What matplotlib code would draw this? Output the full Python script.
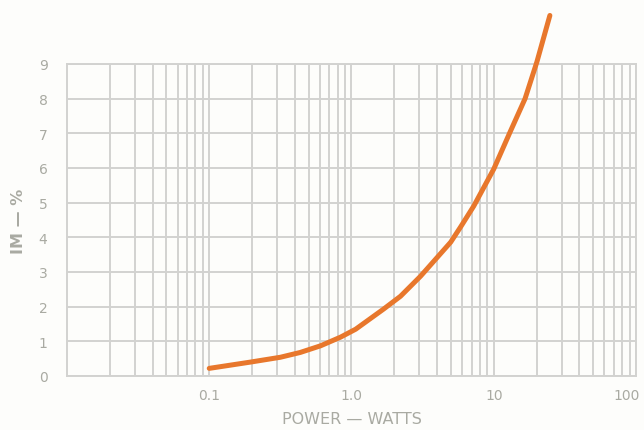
import matplotlib
matplotlib.use("Agg")
import matplotlib.pyplot as plt
import matplotlib.transforms as mtrans
import numpy as np
from matplotlib.ticker import FixedLocator, FixedFormatter, LogLocator, NullFormatter

# intermodulation distortion vs output power
power_w = [0.1, 0.194, 0.316, 0.437, 0.605, 0.837, 1.07, 1.68, 2.21, 3.06,
           4.98, 5.85, 7.23, 10.0, 13.0, 16.6, 20.1, 24.8]
im_pct = [0.22, 0.40, 0.54, 0.68, 0.87, 1.12, 1.35, 1.93, 2.3, 2.88,
          3.86, 4.3, 4.9, 5.97, 7.03, 8.0, 9.06, 10.4]

x_ticks = [0.1, 1.0, 10, 100]
x_labels = ["0.1", "1.0", "10", "100"]
y_ticks = list(range(10))

grid_c = "#d2d2d0"
text_c = "#a9aaa2"
bg = "#fdfdfb"

fig = plt.figure(figsize=(6.44, 4.31), dpi=100, facecolor=bg)
ax = fig.add_axes([0.104, 0.1253, 0.8836, 0.7239], facecolor=bg)

ax.set_xscale("log")
ax.set_xlim(0.01, 100)
ax.set_ylim(0, 9)

ax.xaxis.set_major_locator(FixedLocator(x_ticks))
ax.xaxis.set_major_formatter(FixedFormatter(x_labels))
ax.xaxis.set_minor_locator(LogLocator(base=10, subs=np.arange(2, 10)))
ax.xaxis.set_minor_formatter(NullFormatter())
ax.set_yticks(y_ticks)

ax.grid(True, which="both", axis="x", color=grid_c, lw=1.4)
ax.grid(True, which="major", axis="y", color=grid_c, lw=1.4)
for s in ax.spines.values():
    s.set_color(grid_c)
    s.set_linewidth(1.4)

ax.tick_params(which="both", length=0, colors=text_c, labelsize=10)
ax.tick_params(axis="x", pad=9)
ax.tick_params(axis="y", pad=14)

# keep the "100" label inside the figure
last = ax.get_xticklabels()[-1]
last.set_ha("right")
last.set_transform(last.get_transform() + mtrans.ScaledTranslation(2.5 / 72, 0, fig.dpi_scale_trans))

ax.plot(power_w, im_pct, color="#e8772c", lw=3.6, solid_capstyle="round",
        solid_joinstyle="round", clip_on=False, zorder=5)

ax.set_xlabel("POWER — WATTS", color=text_c, fontsize=11.5, labelpad=6)
ax.set_ylabel("IM — %", color=text_c, fontsize=11.5, fontweight="bold", labelpad=9)

fig.savefig("out.png", dpi=100, facecolor=bg)
